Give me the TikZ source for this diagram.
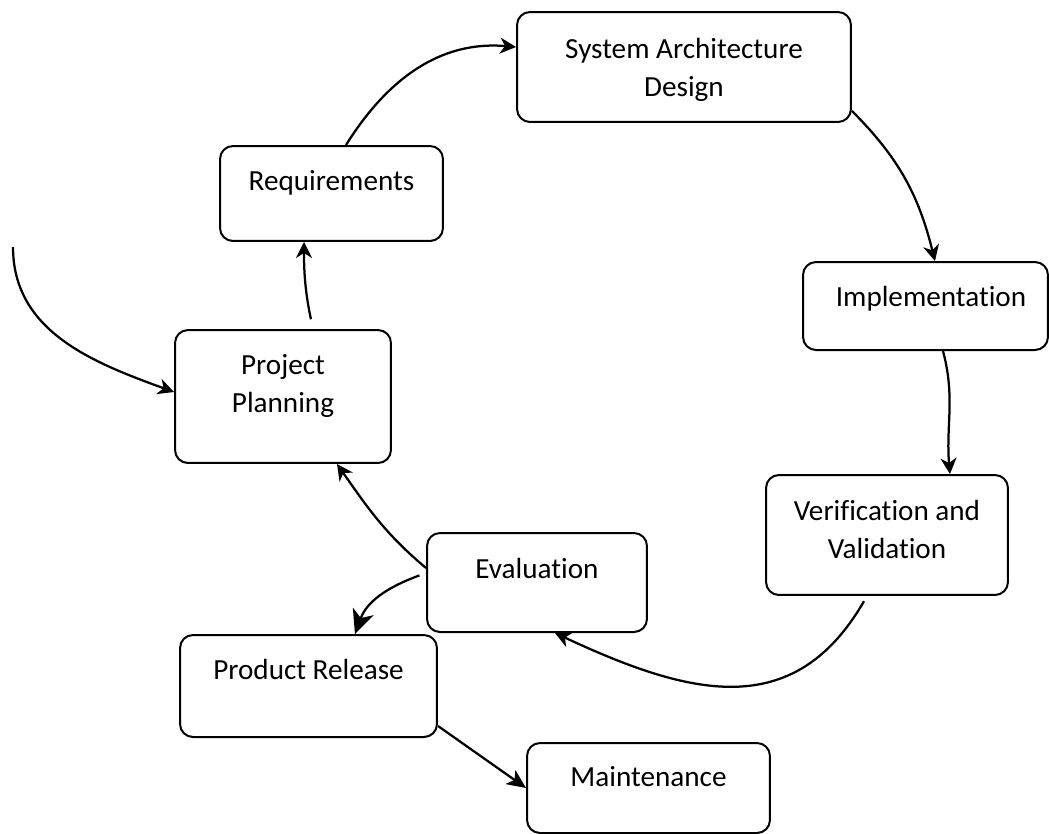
\documentclass[tikz,border=0pt]{standalone}
\usepackage{fontspec}
\setmainfont{Carlito}[Ligatures=NoCommon]
\usetikzlibrary{arrows.meta,positioning}

\begin{document}
\begin{tikzpicture}[x=0.02cm, y=0.02cm,
    stage/.style={draw, line width=0.04cm, rounded corners=0.26cm},
    caption/.style={font=\fontsize{16.6}{21.6}\selectfont, align=center},
    flow/.style={line width=0.045cm, -{Stealth[length=0.32cm, width=0.32cm, inset=0.1cm]}},
    bigflow/.style={line width=0.045cm, -{Stealth[length=0.48cm, width=0.44cm, inset=0.14cm]}}]
    \useasboundingbox (0,0) rectangle (1049,-833);

    % Stages
    \node[stage, minimum width=6.68cm, minimum height=2.20cm,
          label={[caption, yshift=-0.06cm]center:System Architecture\\Design}] (sad) at (684,-67) {};
    \node[stage, minimum width=4.46cm, minimum height=1.90cm,
          label={[caption, yshift=0.21cm]center:Requirements}] (req) at (331.5,-193.5) {};
    \node[stage, minimum width=4.90cm, minimum height=1.76cm,
          label={[caption, yshift=0.14cm, xshift=0.11cm]center:Implementation}] (impl) at (925.5,-306) {};
    \node[stage, minimum width=4.32cm, minimum height=2.66cm,
          label={[caption, yshift=0.21cm]center:Project\\Planning}] (plan) at (283,-396.5) {};
    \node[stage, minimum width=4.84cm, minimum height=2.40cm,
          label={[caption, yshift=0.12cm]center:Verification and\\Validation}] (vv) at (887,-535) {};
    \node[stage, minimum width=4.40cm, minimum height=1.98cm,
          label={[caption, yshift=0.28cm]center:Evaluation}] (eval) at (537,-582.5) {};
    \node[stage, minimum width=5.14cm, minimum height=2.04cm,
          label={[caption, yshift=0.34cm]center:Product Release}] (rel) at (308.5,-686) {};
    \node[stage, minimum width=4.86cm, minimum height=1.80cm,
          label={[caption, yshift=0.22cm]center:Maintenance}] (maint) at (648.5,-788) {};

    % Entry into the cycle
    \coordinate (entry) at (13,-247);
    \draw[flow] (entry) to[out=-90, in=160] ([yshift=0.09cm]plan.west);

    % Cycle
    \draw[flow, shorten <=0.2cm] ([xshift=0.6cm]plan.north) to[bend left=6] ([xshift=-0.55cm]req.south);
    \draw[flow] ([xshift=0.29cm]req.north) to[out=58, in=175] ([yshift=0.4cm]sad.west);
    \draw[flow] ([yshift=0.24cm]sad.south east) to[out=-45, in=104] ([xshift=0.19cm]impl.north);
    \draw[flow] ([xshift=0.35cm]impl.south) to[out=-75, in=95] ([xshift=1.26cm]vv.north);
    \draw[flow, shorten <=0.12cm] ([xshift=-0.4cm]vv.south) to[out=-120, in=-25, looseness=1.2] ([xshift=0.36cm]eval.south);
    \draw[flow] ([yshift=0.29cm]eval.west) to[out=140, in=-55] ([xshift=1.08cm]plan.south);

    % Release
    \draw[bigflow, shorten <=0.14cm] ([yshift=0.19cm]eval.west) to[out=200, in=70] ([xshift=0.93cm]rel.north);
    \draw[flow, -{Stealth[length=0.38cm, width=0.34cm, inset=0.1cm]}] ([yshift=0.24cm]rel.south east) -- (maint.west);
\end{tikzpicture}
\end{document}
